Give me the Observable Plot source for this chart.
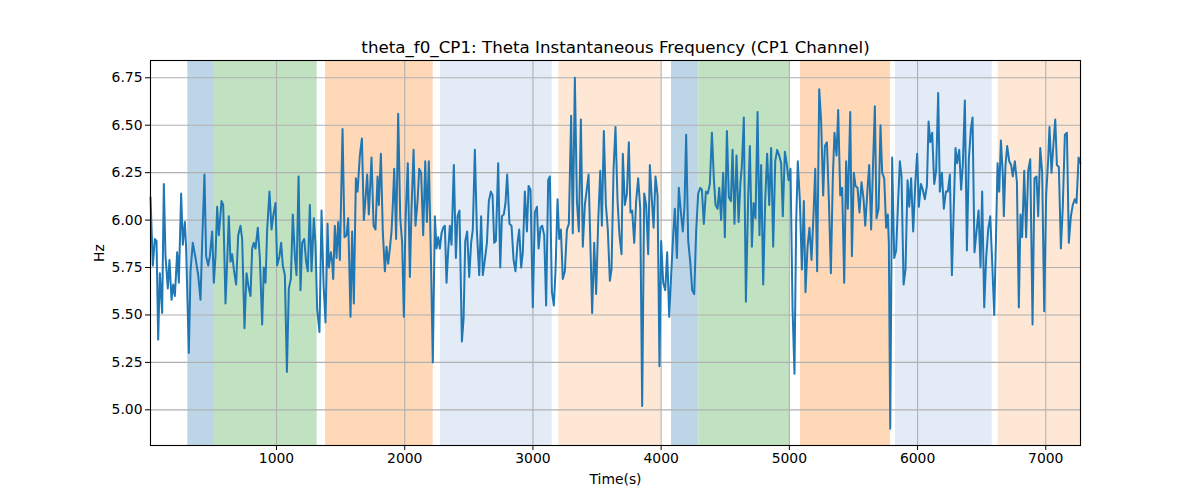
<!DOCTYPE html>
<html><head><meta charset="utf-8">
<script src="https://cdn.jsdelivr.net/npm/d3@7"></script>
<script src="https://cdn.jsdelivr.net/npm/@observablehq/plot@0.6"></script>
<style>body{margin:0;background:#fff} svg{font-family:"DejaVu Sans"}</style>
</head><body><div id="chart"></div>
<script>
const title = "theta_f0_CP1: Theta Instantaneous Frequency (CP1 Channel)";
const time = [17,35,51,64,77,90,108,121,134,152,165,181,194,207,225,238,256,269,285,295,316,329,347,368,389,407,420,438,451,467,480,498,511,524,537,550,571,584,602,615,628,641,654,667,685,701,719,732,750,766,784,797,810,823,836,854,870,888,901,914,
927,945,961,974,992,1005,1023,1036,1049,1065,1081,1096,1112,1127,1143,1156,1172,1187,1200,1216,1231,1244,1260,1273,1291,1304,1317,1335,1351,1367,1382,1398,1408,1424,1434,1442,1455,1468,1481,1494,1515,1530,1546,1559,1577,1590,1603,1619,1632,1650,1666,1681,1694,1707,1720,1741,1757,1772,1788,1798,1814,1829,1845,
1858,1871,1884,1897,1907,1918,1933,1949,1965,1980,1993,2006,2024,2040,2053,2069,2084,2100,2113,2128,2144,2160,2173,2188,2204,2219,2235,2248,2261,2274,2287,2300,2313,2326,2339,2352,2365,2383,2399,2412,2427,2446,2459,2472,2487,2503,2518,2531,2547,2563,2581,2596,2609,2625,2641,2656,2672,2685,2698,2711,2729,2745,2758,2773,2786,
2799,2817,2833,2849,2864,2880,2893,2908,2921,2937,2953,2966,2981,2999,3015,3031,3044,3059,3072,3088,3103,3119,3132,3148,3163,3176,3192,3205,3218,3233,3249,3265,3280,3298,3311,3327,3343,3358,3374,3389,3405,3418,3434,3449,3462,3478,3493,3509,3525,3538,3553,3569,3584,3600,3613,3629,3644,3660,3675,3691,3701,3717,
3733,3748,3761,3774,3790,3805,3821,3837,3852,3868,3883,3899,3912,3928,3941,3956,3972,3987,4000,4016,4032,4047,4063,4078,4094,4107,4123,4138,4154,4169,4182,4195,4211,4227,4242,4258,4273,4289,4305,4318,4333,4349,4364,4380,4396,4411,4424,4440,4453,4468,4484,4497,4513,4528,4544,4557,4572,4588,4604,4619,4630,4645,4661,
4679,4692,4708,4721,4736,4752,4767,4780,4796,4812,4827,4843,4858,4874,4890,4905,4921,4936,4949,4965,4981,4994,5009,5025,5040,5053,5066,5082,5098,5113,5126,5142,5157,5173,5189,5202,5217,5233,5248,5264,5277,5293,5308,5324,5339,5352,5368,5381,5397,5412,5428,5443,5456,5475,5488,5503,5516,5532,5547,5563,5579,5592,5610,5623,5638,5654,5667,
5680,5696,5711,5724,5740,5755,5768,5776,5787,5802,5818,5833,5846,5862,5875,5891,5906,5922,5935,5950,5966,5982,5997,6010,6026,6041,6057,6073,6086,6099,6114,6130,6145,6161,6174,6190,6205,6221,6236,6252,6268,6281,6296,6309,6325,6340,6353,6369,6385,6400,6416,6429,6444,
6460,6476,6491,6504,6520,6535,6551,6567,6582,6598,6611,6624,6637,6650,6665,6673,6686,6699,6715,6730,6743,6759,6775,6790,6803,6816,6832,6847,6863,6879,6897,6912,6928,6941,6957,6972,6988,7003,7019,7029,7045,7061,7074,7087,7102,7118,7133,7149,7165,7180,7196,7211,7227,7240,7256,7271];
const hz = [6.12,5.76,5.90,5.89,5.37,5.72,5.51,6.19,5.81,5.64,5.79,5.58,5.66,5.60,5.83,5.67,6.14,5.87,5.99,5.85,5.30,5.73,5.88,5.80,5.71,5.58,5.88,6.24,5.81,5.76,5.81,5.94,5.67,5.81,6.07,5.92,6.10,6.08,5.56,5.78,6.02,5.78,5.82,5.74,5.66,5.92,5.97,5.90,5.43,5.72,5.64,5.60,5.85,5.88,5.85,5.96,5.80,5.45,5.75,5.67,
5.95,6.15,5.95,6.02,6.09,5.76,5.81,5.88,5.76,5.71,5.20,5.64,5.69,6.03,5.81,5.71,6.23,5.63,5.88,5.90,5.78,5.73,6.08,5.73,6.01,5.87,5.53,5.41,6.05,5.66,5.46,5.98,5.75,5.83,5.78,5.69,5.97,5.80,5.99,5.79,6.48,5.91,5.92,6.01,5.49,5.94,5.56,6.22,6.15,6.34,6.43,6.00,6.11,6.24,6.03,6.33,5.97,5.95,6.23,6.08,6.35,5.94,5.73,
5.86,5.77,5.85,5.94,6.08,6.27,5.90,6.56,6.01,5.88,5.49,5.99,6.30,5.70,6.06,6.37,5.97,6.10,6.27,6.25,5.92,6.31,5.99,6.31,5.81,5.25,6.02,5.85,5.91,5.85,5.93,5.96,5.97,5.67,5.84,5.97,5.87,6.29,5.80,6.02,6.05,5.36,5.48,5.89,5.94,5.70,5.88,5.95,6.37,5.94,5.71,6.02,5.71,5.79,5.88,6.10,6.15,6.13,5.88,5.89,6.30,5.75,6.02,6.03,6.09,
6.24,5.98,5.97,5.79,5.73,5.88,5.95,5.75,5.83,6.15,5.94,6.18,6.16,5.54,6.04,6.07,5.85,5.96,5.97,5.92,5.55,6.21,6.23,5.62,5.55,5.73,6.11,5.90,5.95,5.69,5.73,5.95,5.98,6.55,5.93,6.75,6.10,5.94,6.53,5.86,6.08,6.15,6.24,5.85,5.51,5.88,5.61,5.99,6.26,5.97,6.47,6.08,5.95,5.68,5.74,6.27,6.49,6.10,5.92,5.82,6.35,6.08,
6.14,6.41,6.04,6.05,5.88,6.10,6.22,6.06,5.02,6.14,6.08,5.82,6.29,6.10,5.96,6.23,6.13,5.23,5.89,5.67,5.63,5.83,5.49,5.71,5.92,6.06,5.80,6.17,6.04,5.94,6.07,6.45,5.89,5.78,5.63,5.61,5.94,6.14,6.17,6.16,5.98,6.15,6.14,6.19,6.46,6.22,6.08,6.06,6.17,6.00,6.25,5.91,6.47,6.12,6.10,6.37,5.98,6.34,5.99,6.20,6.29,6.54,5.57,
6.12,6.39,5.86,6.09,6.01,6.57,5.92,6.29,5.66,6.11,6.35,6.08,6.38,5.86,6.31,6.37,6.34,6.30,6.02,6.36,6.29,6.21,6.27,5.53,5.19,5.98,6.31,6.10,5.74,6.10,5.62,5.86,5.96,5.79,6.04,6.27,5.73,6.69,6.52,6.13,6.39,6.41,6.11,5.72,6.22,6.46,6.34,6.58,6.13,6.17,5.67,6.31,6.06,6.57,5.81,6.25,6.18,6.17,6.04,6.20,6.11,5.97,6.17,6.29,5.95,6.32,6.60,
6.01,6.06,6.50,6.25,6.22,5.96,6.03,5.88,4.90,6.33,5.80,5.84,6.06,6.31,6.23,5.66,5.74,6.21,6.07,6.22,5.94,6.19,6.35,6.07,6.19,6.16,6.11,6.18,6.52,6.41,6.46,6.19,6.26,6.67,6.15,6.25,6.06,6.15,6.15,6.24,5.71,6.03,6.38,6.30,6.37,6.16,6.29,6.63,5.84,6.32,6.48,6.54,5.83,
5.94,6.05,5.75,6.15,5.54,5.80,5.95,6.02,5.78,5.50,5.88,6.30,6.15,6.42,6.24,6.02,6.29,6.39,6.31,6.29,6.23,6.31,6.20,5.54,6.03,5.91,6.26,5.91,6.26,6.32,5.45,6.22,6.23,6.02,6.38,6.25,5.52,6.13,6.32,6.49,6.25,6.41,6.53,6.29,6.28,5.85,6.07,6.45,6.46,5.88,6.02,6.08,6.11,6.09,6.33,6.30];
const spanStart = [308, 516, 1382, 2279, 3202, 4081, 4294, 5087, 5828, 6629];
const spanEnd = [516, 1317, 2222, 3150, 4000, 4294, 5004, 5789, 6582, 7271];
const spanKind = ["blue","green","orange","lightblue","lightorange","blue","green","orange","lightblue","lightorange"];
const xTicks = [1000, 2000, 3000, 4000, 5000, 6000, 7000];
const yTicks = [5.00, 5.25, 5.50, 5.75, 6.00, 6.25, 6.50, 6.75];
const xDomain = [17, 7271];
const yDomain = [4.812, 6.841];

const series = time.map((t, i) => ({t, v: hz[i]}));
const spans = spanStart.map((s, i) => ({start: s, end: spanEnd[i], kind: spanKind[i]}));
const grid = {stroke: "#b0b0b0", strokeOpacity: 1, strokeWidth: 1.1};

const chart = Plot.plot({
  width: 1200, height: 500,
  marginLeft: 150, marginRight: 120, marginTop: 60, marginBottom: 55,
  style: {fontFamily: "DejaVu Sans", fontSize: "13.9px", color: "black", background: "white", overflow: "visible"},
  x: {domain: xDomain, label: null},
  y: {domain: yDomain, label: null},
  color: {domain: ["blue","green","orange","lightblue","lightorange"],
          range: ["#bcd6e8","#c0e2c0","#ffd9b7","#e3ebf6","#fee8d5"]},
  marks: [
    Plot.rect(spans, {x1: "start", x2: "end", y1: () => yDomain[0], y2: () => yDomain[1], fill: "kind"}),
    Plot.gridX(xTicks, grid),
    Plot.gridY(yTicks, grid),
    Plot.line(series, {x: "t", y: "v", stroke: "#1f77b4", strokeWidth: 2, strokeLinejoin: "round"}),
    Plot.frame({stroke: "black", strokeWidth: 1.1}),
    Plot.axisX(xTicks, {tickSize: 5, tickPadding: 3, tickFormat: d => String(d), label: "Time(s)", labelAnchor: "center", labelArrow: "none", labelOffset: 38}),
    Plot.axisY(yTicks, {tickSize: 5, tickPadding: 3, tickFormat: d3.format(".2f"), label: "Hz", labelAnchor: "center", labelArrow: "none", labelOffset: 56}),
    Plot.text([title], {frameAnchor: "top", dy: -8, lineAnchor: "bottom", fontSize: 16.7, fill: "black"})
  ]
});
document.getElementById("chart").appendChild(chart);
</script>
</body></html>
